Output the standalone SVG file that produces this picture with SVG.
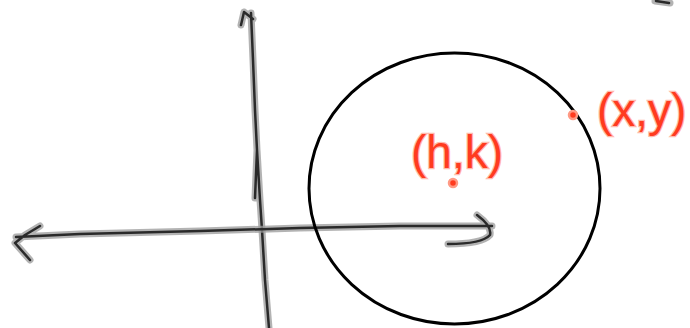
<svg xmlns="http://www.w3.org/2000/svg" width="690" height="328" viewBox="0 0 690 328">
<style>
.halo{fill:none;stroke:#9a9a9a;stroke-opacity:0.75;stroke-width:7;stroke-linecap:round;stroke-linejoin:round}
.core{fill:none;stroke:#2a2a2a;stroke-width:2.5;stroke-linecap:round;stroke-linejoin:round}
.lbl{font-family:"Liberation Sans","DejaVu Sans",sans-serif;fill:#ff3b1f;stroke:#ff9a85;stroke-width:2.5;stroke-opacity:0.7;paint-order:stroke}
.dot{fill:#ff3b1f;stroke:#ff9a85;stroke-width:2.5}
</style>
<rect width="690" height="328" fill="#ffffff"/>
<g id="axes">
  <g id="y-axis">
    <path class="halo" d="M241,25 L244,12 L253,19 M251,13 L253,60 L255,110 L257,150 L260,200 L262,230 L265,280 L269,328 M257,150 L255,198"/>
    <path class="core" d="M241,25 L244,12 L253,19 M251,13 L253,60 L255,110 L257,150 L260,200 L262,230 L265,280 L269,328 M257,150 L255,198"/>
  </g>
  <g id="x-axis">
    <path class="halo" d="M16,237 L80,234 L200,231 L300,228 L400,226 L492,226 M40,226 L25,235 L15,243 L30,260 M477,215 Q492,226 490,235 Q482,244 448,244"/>
    <path class="core" d="M16,237 L80,234 L200,231 L300,228 L400,226 L492,226 M40,226 L25,235 L15,243 L30,260 M477,215 Q492,226 490,235 Q482,244 448,244"/>
  </g>
  <path class="halo" d="M655,1 L670,3"/>
  <path class="core" d="M656,1 L669,3"/>
</g>
<g id="circle-node">
  <ellipse cx="454.5" cy="188.5" rx="145.5" ry="135.5" fill="none" stroke="#000" stroke-width="3"/>
</g>
<g id="center-point">
  <circle class="dot" cx="453" cy="183" r="4"/>
  <text class="lbl" x="411" y="168" font-size="46">(h,k)</text>
</g>
<g id="circle-point">
  <circle class="dot" cx="573" cy="115" r="4"/>
  <text class="lbl" x="597" y="126" font-size="46">(x,y)</text>
</g>
</svg>
